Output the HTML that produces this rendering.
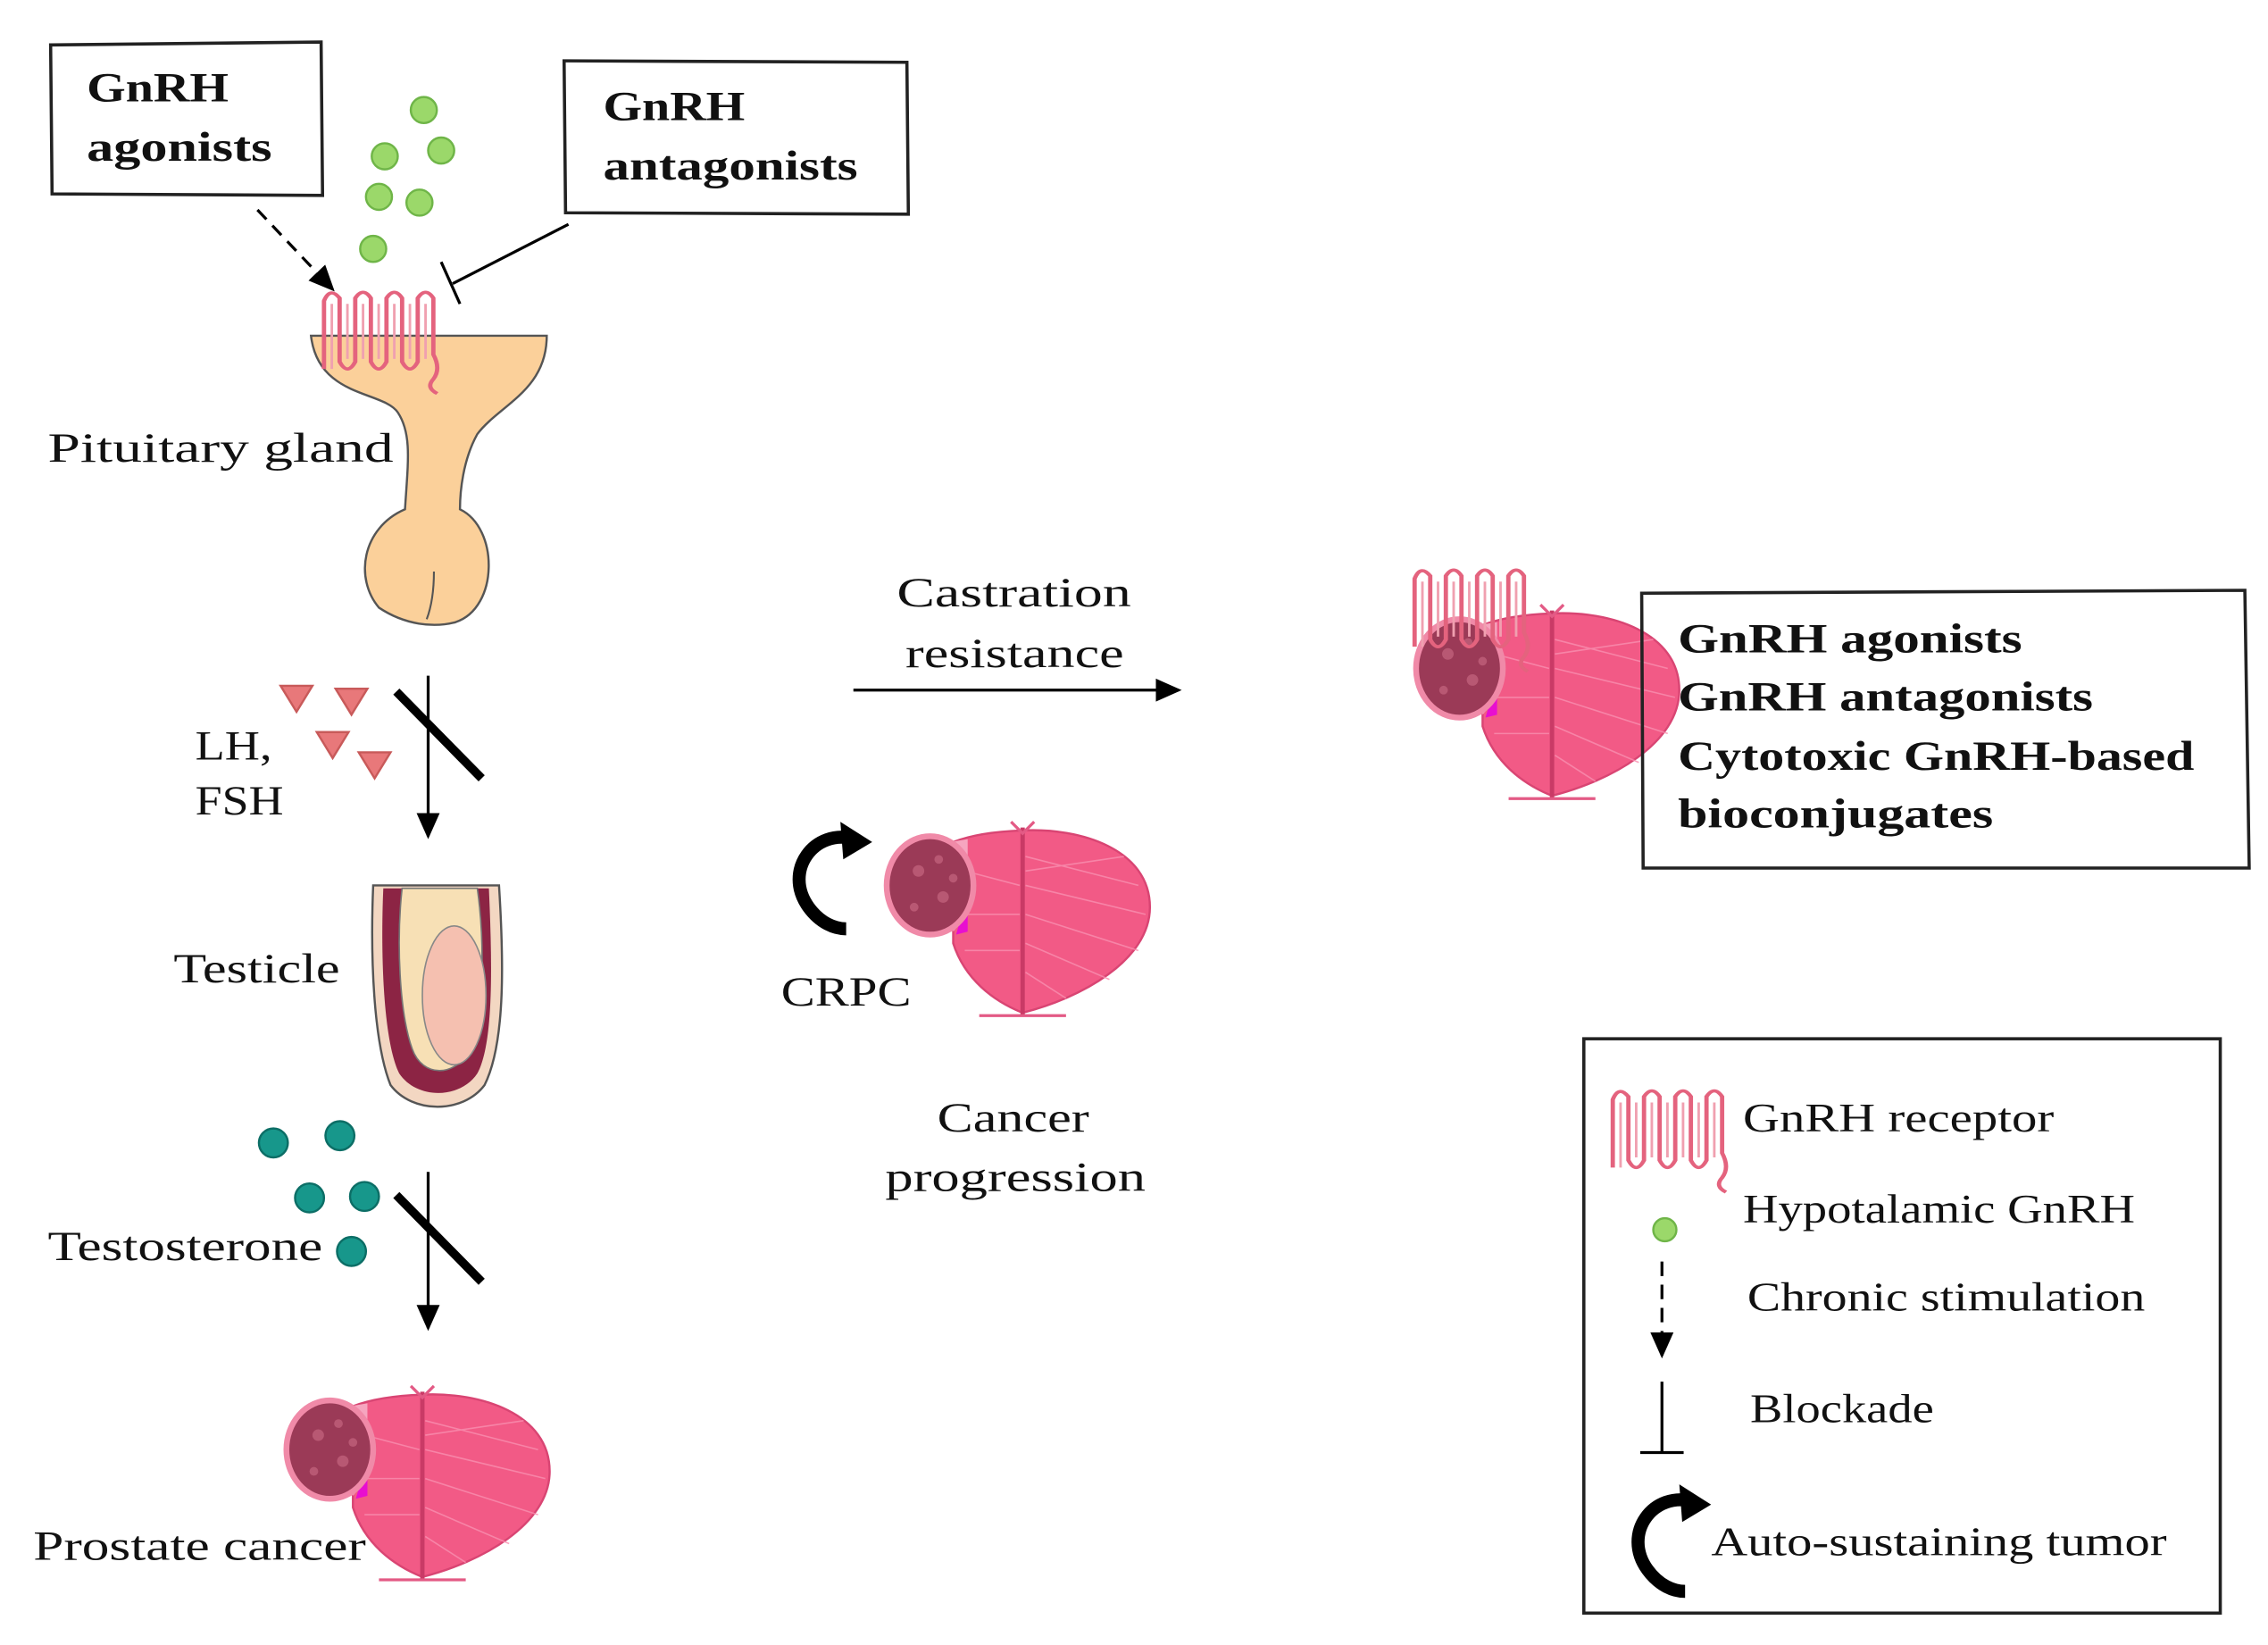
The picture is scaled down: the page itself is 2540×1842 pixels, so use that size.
<!DOCTYPE html>
<html><head><meta charset="utf-8"><style>
html,body{margin:0;padding:0;background:#fff;}
svg{display:block}
text{font-family:"Liberation Serif",serif;fill:#111;}
.b{font-weight:bold;}
</style></head><body>
<svg width="2540" height="1842" viewBox="0 0 1568 1137" xmlns="http://www.w3.org/2000/svg">
<defs>
<marker id="ahb" markerWidth="18" markerHeight="18" refX="16" refY="9" orient="auto" markerUnits="userSpaceOnUse" viewBox="0 0 18 18"><path d="M0,1 L18,9 L0,17 Z" fill="#000"/></marker>
<g id="rec0" fill="none" stroke="#e4637e" stroke-width="2.2">
<path d="M0,55 L0,8 Q3,-2 8,6 L8,50 Q12,60 16,50 L16,6 Q20,-2 24,6 L24,50 Q28,60 32,50 L32,6 Q36,-2 40,6 L40,50 Q44,60 48,50 L48,6 Q52,-2 56,6 L56,45 Q60,55 56,62 Q52,68 58,72"/>
<path d="M4,55 L4,10 M12,10 L12,48 M20,10 L20,48 M28,10 L28,48 M36,10 L36,48 M44,10 L44,48 M52,10 L52,48" stroke-width="1.3" stroke="#f0a0b0"/>
</g>
<g id="rec"><use href="#rec0" transform="scale(1.35,1)"/></g>
<g id="pro">
<path d="M0,2 C40,0 88,15 88,55 C88,92 40,118 0,128 C-20,120 -40,105 -48,80 L-48,10 Q-30,3 0,2 Z" fill="#f25a86" stroke="#d94573" stroke-width="1.5"/>
<g stroke="#f98fb0" stroke-width="1" opacity="0.8">
<path d="M2,20 L80,40 M2,40 L85,60 M2,60 L80,85 M2,80 L60,105 M2,100 L30,118 M2,30 L70,20 M-2,40 L-40,30 M-2,60 L-44,60 M-2,85 L-40,85"/>
</g>
<line x1="0" y1="0" x2="0" y2="130" stroke="#c93a66" stroke-width="3"/>
<path d="M-8,-4 L0,4 L8,-4 M-30,130 L30,130" stroke="#e35a85" stroke-width="2" fill="none"/>
<path d="M-50,10 L-38,8 L-38,60 L-48,72 Z" fill="#f6a5bf"/>
<path d="M-42,60 L-38,55 L-38,72 L-46,74 Z" fill="#e80fd0"/>
<ellipse cx="-64" cy="40" rx="30" ry="34" fill="#9b3a57" stroke="#f08aa8" stroke-width="4"/>
<g fill="#c0607a" opacity="0.8"><circle cx="-72" cy="30" r="4"/><circle cx="-58" cy="22" r="3"/><circle cx="-55" cy="48" r="4"/><circle cx="-75" cy="55" r="3"/><circle cx="-48" cy="35" r="3"/></g>
</g>
<g id="curl"><path d="M38,8 C10,0 -12,30 6,55 C14,66 24,70 32,70" fill="none" stroke="#000" stroke-width="9"/><path d="M28,-4 L50,10 L30,22 Z" fill="#000"/></g>
</defs>

<path d="M35,31 L222,29 L223,135 L36,134 Z" fill="#fff" stroke="#222" stroke-width="2.2"/>
<text x="60" y="70" font-size="29" class="b" textLength="98" lengthAdjust="spacingAndGlyphs">GnRH</text>
<text x="60" y="111" font-size="29" class="b" textLength="128" lengthAdjust="spacingAndGlyphs">agonists</text>
<path d="M390,42 L627,43 L628,148 L391,147 Z" fill="#fff" stroke="#222" stroke-width="2.2"/>
<text x="417" y="83" font-size="29" class="b" textLength="98" lengthAdjust="spacingAndGlyphs">GnRH</text>
<text x="417" y="124" font-size="29" class="b" textLength="176" lengthAdjust="spacingAndGlyphs">antagonists</text>

<g fill="#9bd86a" stroke="#6fb548" stroke-width="1.5">
<circle cx="293" cy="76" r="9"/><circle cx="266" cy="108" r="9"/><circle cx="305" cy="104" r="9"/>
<circle cx="262" cy="136" r="9"/><circle cx="290" cy="140" r="9"/><circle cx="258" cy="172" r="9"/>
</g>
<line x1="178" y1="145" x2="230" y2="200" stroke="#000" stroke-width="2" stroke-dasharray="9,6" marker-end="url(#ahb)"/>
<line x1="393" y1="155" x2="313" y2="196" stroke="#000" stroke-width="2"/>
<line x1="305" y1="181" x2="318" y2="210" stroke="#000" stroke-width="2"/>

<path d="M215,232 L378,232 C378,270 345,280 330,300 C320,318 318,340 318,352 C345,365 345,420 315,430 C300,434 280,432 262,420 C245,400 250,365 280,352 C282,320 285,300 275,285 C265,270 220,275 215,232 Z" fill="#fbd09a" stroke="#555" stroke-width="1.5"/>
<path d="M300,395 C300,410 298,420 295,428" stroke="#555" stroke-width="1.3" fill="none"/>
<use href="#rec" x="224" y="200"/>
<text x="33" y="319" font-size="29" textLength="239" lengthAdjust="spacingAndGlyphs">Pituitary gland</text>

<g fill="#e8787a" stroke="#c85a5a" stroke-width="1.5">
<path d="M194,474 L216,474 L205,492 Z"/><path d="M232,476 L254,476 L243,494 Z"/>
<path d="M219,506 L241,506 L230,524 Z"/><path d="M248,520 L270,520 L259,538 Z"/>
</g>
<text x="135" y="525" font-size="29" textLength="53" lengthAdjust="spacingAndGlyphs">LH,</text>
<text x="135" y="563" font-size="29" textLength="61" lengthAdjust="spacingAndGlyphs">FSH</text>
<line x1="296" y1="467" x2="296" y2="578" stroke="#000" stroke-width="2" marker-end="url(#ahb)"/>
<line x1="274" y1="478" x2="333" y2="538" stroke="#000" stroke-width="6"/>

<path d="M258,612 L345,612 C348,660 350,720 335,750 C320,770 285,770 270,750 C258,720 256,660 258,612 Z" fill="#f3d7c2" stroke="#555" stroke-width="1.5"/>
<path d="M265,614 L338,614 C340,660 342,720 330,742 C318,760 288,760 276,742 C265,720 263,660 265,614 Z" fill="#8c2444"/>
<path d="M278,614 L330,614 C335,650 335,700 325,725 C315,745 292,745 285,725 C276,700 274,650 278,614 Z" fill="#f7e0b5" stroke="#777" stroke-width="1"/>
<ellipse cx="314" cy="688" rx="22" ry="48" fill="#f5c0b0" stroke="#888" stroke-width="1"/>
<text x="120" y="679" font-size="29" textLength="115" lengthAdjust="spacingAndGlyphs">Testicle</text>

<g fill="#17978b" stroke="#0c6e66" stroke-width="1.5">
<circle cx="189" cy="790" r="10"/><circle cx="235" cy="785" r="10"/><circle cx="214" cy="828" r="10"/><circle cx="252" cy="827" r="10"/><circle cx="243" cy="865" r="10"/>
</g>
<text x="33" y="871" font-size="29" textLength="190" lengthAdjust="spacingAndGlyphs">Testosterone</text>
<line x1="296" y1="810" x2="296" y2="918" stroke="#000" stroke-width="2" marker-end="url(#ahb)"/>
<line x1="274" y1="826" x2="333" y2="886" stroke="#000" stroke-width="6"/>

<use href="#pro" x="292" y="962"/>
<text x="23" y="1078" font-size="29" textLength="230" lengthAdjust="spacingAndGlyphs">Prostate cancer</text>

<text x="620" y="419" font-size="29" textLength="162" lengthAdjust="spacingAndGlyphs">Castration</text>
<text x="626" y="461" font-size="29" textLength="151" lengthAdjust="spacingAndGlyphs">resistance</text>
<line x1="590" y1="477" x2="815" y2="477" stroke="#000" stroke-width="2" marker-end="url(#ahb)"/>
<use href="#pro" x="707" y="572"/>
<use href="#curl" x="553" y="572"/>
<text x="540" y="695" font-size="29" textLength="90" lengthAdjust="spacingAndGlyphs">CRPC</text>
<text x="648" y="782" font-size="29" textLength="105" lengthAdjust="spacingAndGlyphs">Cancer</text>
<text x="612" y="823" font-size="29" textLength="180" lengthAdjust="spacingAndGlyphs">progression</text>

<use href="#pro" x="1073" y="422"/>
<use href="#rec" x="978" y="392"/>
<path d="M1135,410 L1552,408 L1555,600 L1136,600 Z" fill="none" stroke="#222" stroke-width="2.2"/>
<text x="1160" y="451" font-size="29" class="b" textLength="238" lengthAdjust="spacingAndGlyphs">GnRH agonists</text>
<text x="1160" y="491" font-size="29" class="b" textLength="287" lengthAdjust="spacingAndGlyphs">GnRH antagonists</text>
<text x="1160" y="532" font-size="29" class="b" textLength="357" lengthAdjust="spacingAndGlyphs">Cytotoxic GnRH-based</text>
<text x="1160" y="572" font-size="29" class="b" textLength="218" lengthAdjust="spacingAndGlyphs">bioconjugates</text>

<rect x="1095" y="718" width="440" height="397" fill="none" stroke="#222" stroke-width="2.2"/>
<use href="#rec" x="1115" y="752"/>
<text x="1205" y="782" font-size="28" textLength="215" lengthAdjust="spacingAndGlyphs">GnRH receptor</text>
<circle cx="1151" cy="850" r="8" fill="#9bd86a" stroke="#6fb548" stroke-width="1.5"/>
<text x="1205" y="845" font-size="28" textLength="271" lengthAdjust="spacingAndGlyphs">Hypotalamic GnRH</text>
<line x1="1149" y1="872" x2="1149" y2="937" stroke="#000" stroke-width="2" stroke-dasharray="10,6" marker-end="url(#ahb)"/>
<text x="1208" y="906" font-size="28" textLength="275" lengthAdjust="spacingAndGlyphs">Chronic stimulation</text>
<line x1="1149" y1="955" x2="1149" y2="1004" stroke="#000" stroke-width="2"/>
<line x1="1134" y1="1004" x2="1164" y2="1004" stroke="#000" stroke-width="2"/>
<text x="1210" y="983" font-size="28" textLength="127" lengthAdjust="spacingAndGlyphs">Blockade</text>
<use href="#curl" x="1133" y="1030" transform="translate(0,0)"/>
<text x="1183" y="1075" font-size="28" textLength="315" lengthAdjust="spacingAndGlyphs">Auto-sustaining tumor</text>
</svg>
</body></html>
